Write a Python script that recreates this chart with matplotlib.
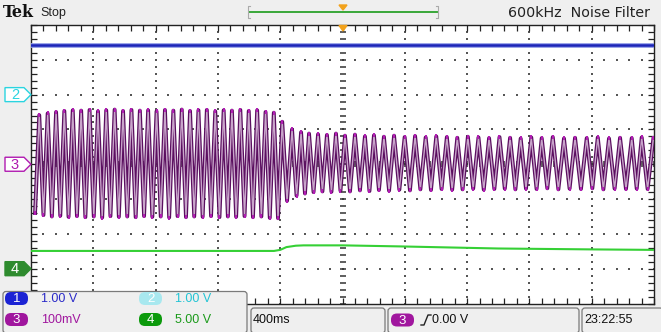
import numpy as np
import matplotlib.pyplot as plt
from matplotlib.patches import FancyBboxPatch, Polygon

# scope settings
SEC_PER_DIV = 0.4
CH3_MV_PER_DIV = 100
CH4_V_PER_DIV = 5
CH2_GROUND_DIV = 2
CH3_GROUND_DIV = 0
CH4_GROUND_DIV = -3

# channel 1: flat level (in divisions)
ch1_t = [-2.0, 2.0]
ch1_div = [3.42, 3.42]

# channel 3: extrema of the oscillation (s, mV)
ch3_t = [
    -1.974, -1.947, -1.920, -1.893, -1.866, -1.839, -1.812, -1.786, -1.759, -1.732,
    -1.705, -1.678, -1.651, -1.624, -1.597, -1.570, -1.543, -1.517, -1.490, -1.463,
    -1.436, -1.409, -1.382, -1.355, -1.328, -1.301, -1.274, -1.248, -1.221, -1.194,
    -1.167, -1.140, -1.113, -1.086, -1.059, -1.032, -1.005, -0.979, -0.952, -0.925,
    -0.898, -0.871, -0.844, -0.817, -0.790, -0.763, -0.736, -0.710, -0.683, -0.656,
    -0.629, -0.602, -0.575, -0.548, -0.521, -0.494, -0.467, -0.441, -0.414,
    -0.387, -0.356, -0.324, -0.295, -0.266, -0.241, -0.215, -0.186, -0.157, -0.129,
    -0.100, -0.071, -0.042, -0.013, 0.016, 0.048, 0.080, 0.112, 0.144, 0.173,
    0.202, 0.234, 0.266, 0.299, 0.331, 0.365, 0.399, 0.433, 0.466, 0.500,
    0.534, 0.568, 0.602, 0.636, 0.670, 0.704, 0.737, 0.771, 0.805, 0.839,
    0.873, 0.907, 0.941, 0.975, 1.008, 1.042, 1.076, 1.110, 1.144, 1.178,
    1.212, 1.246, 1.279, 1.315, 1.350, 1.386, 1.422, 1.458, 1.493, 1.531,
    1.568, 1.604, 1.639, 1.675, 1.711, 1.747, 1.782, 1.820, 1.857, 1.889,
    1.921, 1.959, 1.996,
]
ch3_mv = [
    -140, 141, -146, 146, -150, 150, -148, 153, -151, 155,
    -149, 154, -152, 156, -150, 152, -153, 155, -149, 157,
    -151, 153, -150, 156, -152, 154, -149, 155, -151, 152,
    -150, 156, -153, 154, -149, 157, -152, 153, -150, 155,
    -151, 156, -149, 152, -152, 155, -150, 154, -151, 156,
    -149, 153, -152, 155, -150, 150, -154, 148, -155,
    122, -105, 100, -90, 92, -84, 88, -80, 86, -78,
    84, -79, 88, -76, 82, -78, 85, -75, 80, -77,
    83, -74, 79, -76, 82, -73, 78, -75, 81, -72,
    77, -74, 80, -71, 78, -73, 76, -72, 79, -70,
    77, -73, 75, -71, 78, -70, 76, -72, 74, -70,
    77, -71, 75, -69, 78, -72, 74, -70, 76, -71,
    75, -69, 77, -72, 74, -70, 76, -71, 75, -70,
    77, -71, 74,
]

# channel 4: slow level (s, V)
ch4_t = [-2.0, -1.2, -0.44, -0.40, -0.36, -0.30, -0.25, 0.0, 0.37, 1.0, 1.6, 2.0]
ch4_v = [2.55, 2.55, 2.55, 2.7, 3.1, 3.3, 3.35, 3.35, 3.2, 2.9, 2.77, 2.7]

W, H = 661, 332
fig = plt.figure(figsize=(W / 100, H / 100), dpi=100, facecolor='#efefef')

# graticule area in pixels
gl, gr, gt, gb = 31, 654, 25, 303.5
ax = fig.add_axes([gl / W, 1 - gb / H, (gr - gl) / W, (gb - gt) / H])
ax.set_facecolor('white')
ax.set_xlim(-5 * SEC_PER_DIV, 5 * SEC_PER_DIV)
ax.set_ylim(-4, 4)

# graticule dots and center marks
xmaj = np.arange(-4, 5) * SEC_PER_DIV
xmin = np.arange(-25, 26) * SEC_PER_DIV / 5
ymaj = np.arange(-3, 4)
ymin = np.arange(-20, 21) / 5
for xv in xmaj:
    if abs(xv) > 1e-9:
        ax.scatter(np.full(len(ymin), xv), ymin, s=1.2, color='#555555', marker='s', lw=0, zorder=1)
for yv in ymaj:
    if yv != 0:
        ax.scatter(xmin, np.full(len(xmin), yv), s=1.2, color='#555555', marker='s', lw=0, zorder=1)
ax.scatter(np.zeros(len(ymin)), ymin, s=14, marker='_', color='#333333', lw=1.1, zorder=1)
ax.scatter(xmin, np.zeros(len(xmin)), s=14, marker='|', color='#333333', lw=1.1, zorder=1)

ax.set_xticks(xmaj)
ax.set_xticks(xmin, minor=True)
ax.set_yticks(ymaj)
ax.set_yticks(ymin, minor=True)
ax.tick_params(which='both', direction='in', length=4, width=0.9, color='#222222',
               top=True, right=True, labelbottom=False, labelleft=False)
for s in ax.spines.values():
    s.set_color('#222222')
    s.set_linewidth(1.0)

# traces
ax.plot(ch1_t, ch1_div, color='#8f9ae6', lw=3.4, zorder=3)
ax.plot(ch1_t, ch1_div, color='#1d26b8', lw=1.8, zorder=3)

ch3_div = np.array(ch3_mv) / CH3_MV_PER_DIV + CH3_GROUND_DIV
ax.plot(ch3_t, ch3_div, color='#5b0f60', lw=2.8, zorder=3)
ax.plot(ch3_t, ch3_div, color='#c9a6cb', lw=1.0, zorder=3)
ax.scatter(ch3_t, ch3_div, s=6, marker='|', color='#b21cb4', lw=1.4, zorder=4)

ch4_div = np.array(ch4_v) / CH4_V_PER_DIV + CH4_GROUND_DIV
ax.plot(ch4_t, ch4_div, color='#35d035', lw=1.5, zorder=3)

# overlay in pixel coordinates
ov = fig.add_axes([0, 0, 1, 1], zorder=5)
ov.set_xlim(0, W)
ov.set_ylim(H, 0)
ov.axis('off')

def ypix(div):
    return (gt + gb) / 2 - div * (gb - gt) / 8

narrow = 'Liberation Sans'
orange = '#f2a21c'

# header
ov.text(3, 12.5, 'Tek', family='DejaVu Serif', weight='bold', fontsize=11.5, va='center', color='#111111')
ov.text(40, 13, 'Stop', family=narrow, fontsize=9, va='center', color='#222222')
ov.plot([249, 437], [12, 12], color='#3aa83a', lw=1.4)
ov.plot([250, 248, 248, 250], [6, 6, 18, 18], color='#aaaaaa', lw=0.8)
ov.plot([436, 438, 438, 436], [6, 6, 18, 18], color='#aaaaaa', lw=0.8)
ov.add_patch(Polygon([[339, 5], [347, 5], [343, 10]], closed=True, color=orange))
ov.add_patch(Polygon([[339, 25.5], [347, 25.5], [343, 31]], closed=True, color=orange))
ov.text(650, 13, '600kHz  Noise Filter', family='DejaVu Sans', fontsize=10.3, ha='right', va='center', color='#222222')

# channel ground markers
def marker(y, label, edge, face, tc):
    pts = [[5, y - 7], [24, y - 7], [31, y], [24, y + 7], [5, y + 7]]
    ov.add_patch(Polygon(pts, closed=True, facecolor=face, edgecolor=edge, lw=1.0))
    ov.text(15, y + 0.5, label, family=narrow, fontsize=10.5, ha='center', va='center', color=tc)

marker(ypix(CH2_GROUND_DIV), '2', '#2ad4e0', 'white', '#2ad4e0')
marker(ypix(CH3_GROUND_DIV), '3', '#b01ab0', 'white', '#b01ab0')
marker(ypix(CH4_GROUND_DIV), '4', '#2e8b2e', '#2e8b2e', 'white')

# readout boxes
def box(x0, y0, x1, y1):
    ov.add_patch(FancyBboxPatch((x0, y0), x1 - x0, y1 - y0, boxstyle='round,pad=0,rounding_size=3',
                                facecolor='#efefef', edgecolor='#7a7a7a', lw=0.9))

def pill(x, y, label, color, tc='white'):
    ov.add_patch(FancyBboxPatch((x, y - 6.5), 23, 13, boxstyle='round,pad=0,rounding_size=6',
                                facecolor=color, edgecolor='none'))
    ov.text(x + 11.5, y + 0.5, label, family=narrow, fontsize=9.5, ha='center', va='center', color=tc)

box(3, 291.5, 247, 333)
pill(5, 298.5, '1', '#1c23d4')
ov.text(41, 299, '1.00 V', family=narrow, fontsize=9, va='center', color='#2a2ac8')
pill(139, 298.5, '2', '#a8e8ef')
ov.text(175, 299, '1.00 V', family=narrow, fontsize=9, va='center', color='#22c4d4')
pill(5, 319.5, '3', '#a0169e')
ov.text(41, 320, '100mV', family=narrow, fontsize=9, va='center', color='#a0169e')
pill(139, 319.5, '4', '#0c9a0c')
ov.text(175, 320, '5.00 V', family=narrow, fontsize=9, va='center', color='#1a9a1a')

box(251, 308, 385, 333)
ov.text(253, 320, '400ms', family=narrow, fontsize=9, va='center', color='#111111')
box(388, 308, 579, 333)
pill(391, 320, '3', '#a0169e')
ov.plot([421, 424, 428, 431], [325, 325, 315, 315], color='#222222', lw=1.0)
ov.text(432, 320, '0.00 V', family=narrow, fontsize=9, va='center', color='#111111')
box(582, 308, 663, 333)
ov.text(584, 320, '23:22:55', family=narrow, fontsize=9, va='center', color='#111111')

fig.savefig('out.png', dpi=100, facecolor=fig.get_facecolor())
